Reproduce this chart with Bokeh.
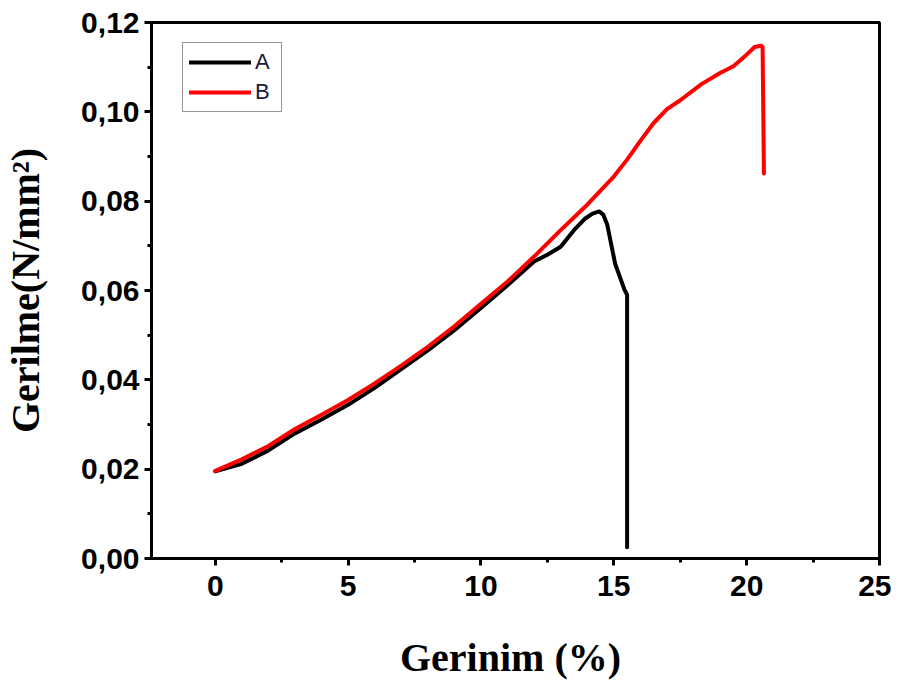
from bokeh.plotting import figure
from bokeh.models import Range1d, FixedTicker, Legend, LegendItem
from bokeh.embed import file_html
from bokeh.resources import INLINE

# ---- data ----
a_strain = [0, 1, 2, 3, 4, 5, 6, 7, 8, 9, 10, 11, 12, 12.5, 13, 13.5, 13.9, 14.2, 14.45,
            14.6, 14.75, 15.05, 15.4, 15.5, 15.5]
a_stress = [0.0195, 0.0212, 0.0242, 0.0280, 0.0311, 0.0344, 0.0382, 0.0424, 0.0466, 0.0511,
            0.0561, 0.0612, 0.0665, 0.0680, 0.0698, 0.0735, 0.0760, 0.0772, 0.0777,
            0.0770, 0.0748, 0.0660, 0.0602, 0.0590, 0.0025]

b_strain = [0, 1, 2, 3, 4, 5, 6, 7, 8, 9, 10, 11, 12, 13, 14, 15, 15.5, 16.0, 16.5, 17.0,
            17.5, 18.3, 19.0, 19.5, 20.0, 20.3, 20.55, 20.6, 20.65]
b_stress = [0.0196, 0.0222, 0.0252, 0.0290, 0.0322, 0.0355, 0.0392, 0.0432, 0.0474, 0.0520,
            0.0570, 0.0620, 0.0676, 0.0735, 0.0792, 0.0855, 0.0893, 0.0935, 0.0975, 0.1006,
            0.1026, 0.1062, 0.1087, 0.1102, 0.1128, 0.1145, 0.1148, 0.1145, 0.0862]

series_names = ["A", "B"]
series_colors = ["#000000", "#ff0000"]

x_ticks = [0, 5, 10, 15, 20, 25]
x_tick_labels = ["0", "5", "10", "15", "20", "25"]
x_minor = [2.5, 7.5, 12.5, 17.5, 22.5]
y_ticks = [0, 0.02, 0.04, 0.06, 0.08, 0.1, 0.12]
y_tick_labels = ["0,00", "0,02", "0,04", "0,06", "0,08", "0,10", "0,12"]
y_minor = [0.01, 0.03, 0.05, 0.07, 0.09, 0.11]

x_title = "Gerinim  (%)"
y_title = "Gerilme(N/mm\u00b2)"

# ---- figure ----
p = figure(width=891, height=682, output_backend="svg", toolbar_location=None,
           x_range=Range1d(-2.4, 25), y_range=Range1d(0, 0.12),
           min_border_left=150, min_border_right=12, min_border_top=22, min_border_bottom=121)
p.grid.visible = False
p.outline_line_color = "black"
p.outline_line_width = 3
p.background_fill_color = "white"
p.border_fill_color = "white"

ra = p.line(a_strain, a_stress, line_color=series_colors[0], line_width=4, line_join="round", line_cap="round")
rb = p.line(b_strain, b_stress, line_color=series_colors[1], line_width=4, line_join="round", line_cap="round")

p.xaxis.ticker = FixedTicker(ticks=x_ticks, minor_ticks=x_minor)
p.yaxis.ticker = FixedTicker(ticks=y_ticks, minor_ticks=y_minor)
p.xaxis.major_label_overrides = {t: l for t, l in zip(x_ticks, x_tick_labels)}
p.yaxis.major_label_overrides = {t: l for t, l in zip(y_ticks, y_tick_labels)}

for ax in (p.xaxis, p.yaxis):
    ax.axis_line_width = 3
    ax.axis_line_color = "black"
    ax.major_tick_line_width = 3
    ax.minor_tick_line_width = 3
    ax.major_tick_out = 7
    ax.major_tick_in = 0
    ax.minor_tick_out = 4
    ax.minor_tick_in = 0
    ax.major_label_text_font = "Liberation Sans"
    ax.major_label_text_font_style = "bold"
    ax.major_label_text_font_size = "30px"
    ax.major_label_text_color = "black"
    ax.axis_label_text_font = "Liberation Serif"
    ax.axis_label_text_font_style = "bold"
    ax.axis_label_text_font_size = "40px"
    ax.axis_label_text_color = "black"

p.xaxis.axis_label = x_title
p.yaxis.axis_label = y_title
p.xaxis.major_label_standoff = 10
p.yaxis.major_label_standoff = 5
p.xaxis.axis_label_standoff = 36
p.yaxis.axis_label_standoff = 30

legend = Legend(items=[LegendItem(label=series_names[0], renderers=[ra]),
                       LegendItem(label=series_names[1], renderers=[rb])],
                location=(31, 446))
legend.label_text_font = "Liberation Sans"
legend.label_text_font_size = "22px"
legend.label_text_color = "#1a1a3a"
legend.glyph_width = 62
legend.glyph_height = 26
legend.label_height = 26
legend.label_standoff = 4
legend.spacing = 4
legend.padding = 6
legend.margin = 0
legend.border_line_color = "#333333"
legend.border_line_width = 1.5
legend.background_fill_alpha = 1
p.add_layout(legend)

open("out.html", "w").write(file_html(p, INLINE))
